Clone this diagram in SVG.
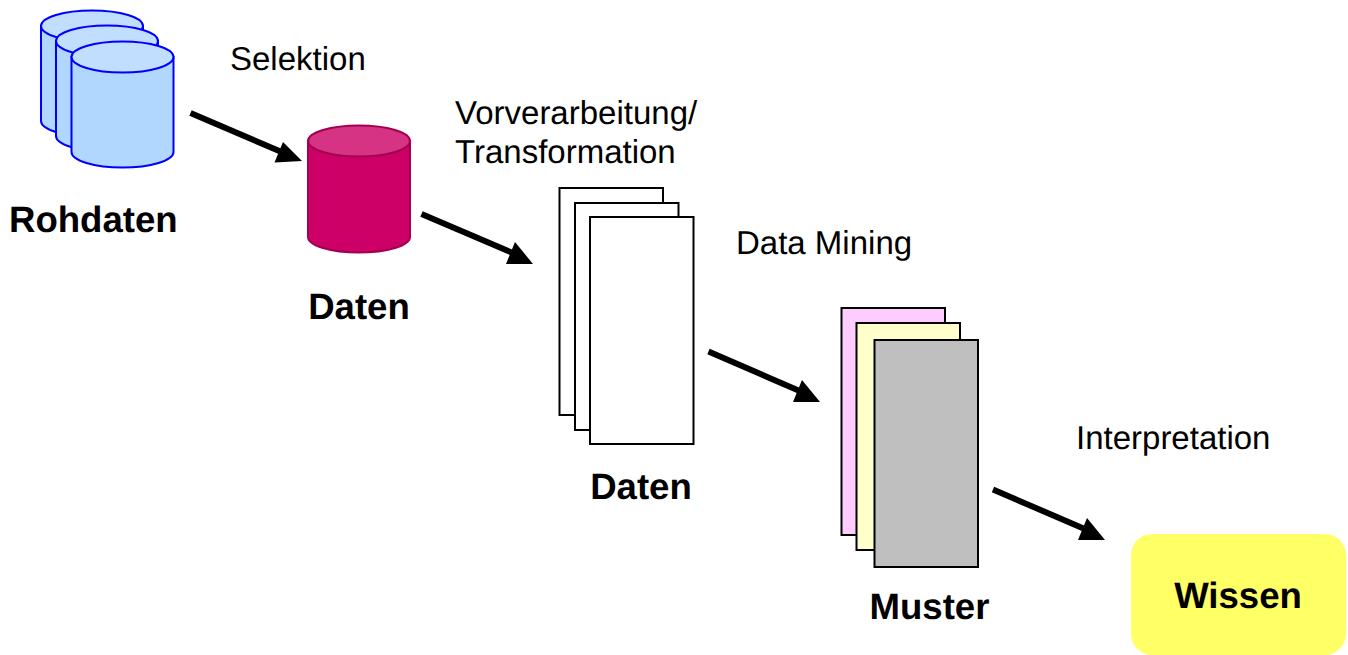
<svg xmlns="http://www.w3.org/2000/svg" width="1348" height="655" viewBox="0 0 1348 655">
<style>
text{font-family:"Liberation Sans",Arial,sans-serif;fill:#000;text-rendering:geometricPrecision}
.l{font-size:33px}
.b{font-size:36.600px;font-weight:bold}
.bl{fill:#b2d7ff;stroke:#0000ff;stroke-width:2}
.blt{fill:#c1deff;stroke:#0000ff;stroke-width:2}
.rd{fill:#cc0066;stroke:#a3004f;stroke-width:2}
.rdt{fill:#d63384;stroke:#a3004f;stroke-width:2}
.p{stroke:#000;stroke-width:2}
.a{stroke:#000;stroke-width:6;fill:none}
</style>
<rect width="1348" height="655" fill="#fff"/>
<g id="rohdaten">
<path class="bl" d="M41 26V121A51 15.500 0 0 0 143 121V26Z"/><ellipse class="blt" cx="92" cy="26" rx="51" ry="15.500"/>
<path class="bl" d="M56 41V136A51 15.500 0 0 0 158 136V41Z"/><ellipse class="blt" cx="107" cy="41" rx="51" ry="15.500"/>
<path class="bl" d="M71.500 57V152A51 15.500 0 0 0 173.500 152V57Z"/><ellipse class="blt" cx="122.500" cy="57" rx="51" ry="15.500"/>
<text class="b" x="9" y="232">Rohdaten</text>
</g>
<g id="daten1">
<path class="rd" d="M308 141V237A51 15.500 0 0 0 410 237V141Z"/><ellipse class="rdt" cx="359" cy="141" rx="51" ry="15.500"/>
<text class="b" x="359" y="319" text-anchor="middle">Daten</text>
</g>
<g id="daten2">
<rect class="p" x="559.500" y="188" width="103.500" height="227" fill="#fff"/>
<rect class="p" x="575" y="203" width="103.500" height="227" fill="#fff"/>
<rect class="p" x="590" y="217" width="103.500" height="227" fill="#fff"/>
<text class="b" x="641" y="499" text-anchor="middle">Daten</text>
</g>
<g id="muster">
<rect class="p" x="841.500" y="308" width="103.500" height="227" fill="#ffccff"/>
<rect class="p" x="856.500" y="323" width="103.500" height="227" fill="#ffffcc"/>
<rect class="p" x="874.500" y="340" width="103.500" height="227" fill="#bfbfbf"/>
<text class="b" x="929.500" y="619" text-anchor="middle">Muster</text>
</g>
<g id="wissen">
<rect x="1131" y="534" width="215" height="121" rx="21" fill="#ffff66"/>
<text class="b" x="1238" y="608" text-anchor="middle">Wissen</text>
</g>
<g id="connectors">
<path class="a" d="M190.500 113L284 153"/><polygon points="302,161 283,142 274.500,162.500"/>
<path class="a" d="M421.500 214L515 254"/><polygon points="533,264 515,242 506,264"/>
<path class="a" d="M708.500 351.500L802 392"/><polygon points="820,402 802,380 793,402"/>
<path class="a" d="M993 489.500L1087 530"/><polygon points="1105,540 1087,518 1078,540"/>
</g>
<g id="labels">
<text class="l" x="230" y="70">Selektion</text>
<text class="l" x="455" y="124">Vorverarbeitung/</text>
<text class="l" x="455" y="163">Transformation</text>
<text class="l" x="736" y="254">Data Mining</text>
<text class="l" x="1076" y="449">Interpretation</text>
</g>
</svg>
